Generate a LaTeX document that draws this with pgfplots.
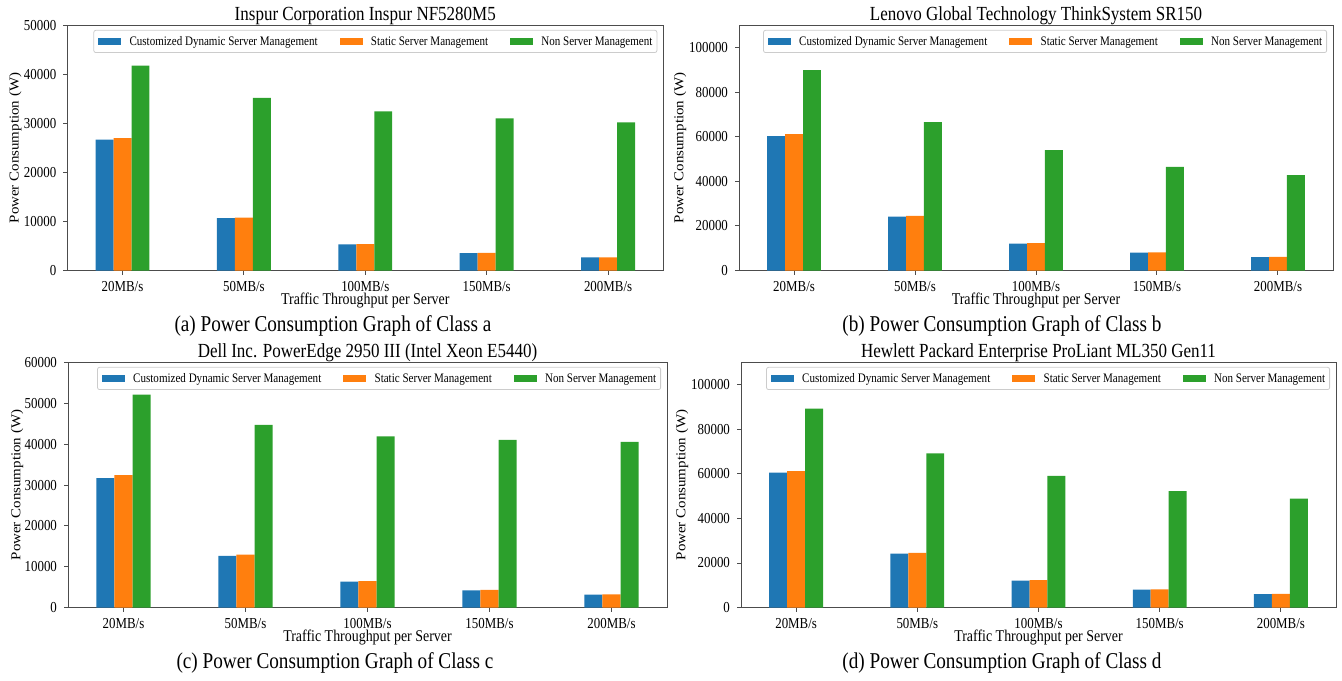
\documentclass[border=0pt]{standalone}
\usepackage{pgfplots}
\pgfplotsset{compat=1.18}
\usepackage{fontspec}
\setmainfont{Liberation Serif}[FakeStretch=0.85]
\newfontfamily\ylfont{Liberation Serif}[FakeStretch=1.1]
\definecolor{cB}{HTML}{1F77B4}
\definecolor{cO}{HTML}{FF7F0E}
\definecolor{cG}{HTML}{2CA02C}
\pgfplotsset{
 panel/.style={
  scale only axis, anchor=south west,
  ybar=0pt, bar width=0.148,
  xmin=-0.455, xmax=4.455, ymin=0,
  xtick={0,1,2,3,4},
  xticklabels={20MB/s,50MB/s,100MB/s,150MB/s,200MB/s},
  tick align=outside, xtick pos=bottom, ytick pos=left,
  major tick length=2pt,
  tick style={black!70, line width=0.5pt},
  axis line style={black!70, line width=0.5pt},
  scaled y ticks=false,
  /pgf/number format/assume math mode=true,
  yticklabel style={/pgf/number format/.cd, fixed, 1000 sep={}},
  ticklabel style={font=\fontsize{7.6}{8}\selectfont},
  xticklabel style={anchor=base, yshift=-8.35pt},
  xlabel={Traffic Throughput per Server},
  ylabel={Power Consumption (W)},
  xlabel style={font=\fontsize{8.2}{9}\selectfont, at={(axis description cs:0.5,0)}, anchor=base, yshift=-17pt},
  ylabel style={font=\fontsize{6.8}{7}\ylfont, anchor=center},
  every axis title/.style={font=\fontsize{10}{11}\selectfont, at={(axis description cs:0.5,1)}, anchor=base, yshift=2.5pt},
  legend columns=3,
  legend style={at={(1,1)}, anchor=north east, xshift=-3pt, yshift=-2.2pt,
    draw=black!20, rounded corners=1pt, font=\fontsize{6.5}{7}\selectfont,
    inner xsep=2.2pt, inner ysep=3.3pt, nodes={inner sep=0pt, text depth=0pt},
    /tikz/every odd column/.append style={column sep=4.15pt},
    /tikz/every even column/.append style={column sep=11pt}},
  legend image code/.code={\path[#1,draw=none,sharp corners] (0pt,-1.75pt) rectangle (11.5pt,1.75pt);},
 }
}
\begin{document}
\begin{tikzpicture}
\path (0,0) rectangle (671pt,337.5pt);
% (a)
\begin{axis}[panel, at={(33.65pt,202.5pt)}, width=298pt, height=122.5pt,
  ymax=50000, ytick distance=10000,
  title={Inspur Corporation Inspur NF5280M5},
  ylabel style={at={(axis description cs:-0.087,0.5)}}]
\addplot[fill=cB, draw=none, bar shift=-0.148] coordinates {(0,26700) (1,10680) (2,5340) (3,3560) (4,2670)};
\addplot[fill=cO, draw=none, bar shift=0] coordinates {(0,27000) (1,10800) (2,5400) (3,3600) (4,2700)};
\addplot[fill=cG, draw=none, bar shift=0.148] coordinates {(0,41800) (1,35250) (2,32480) (3,31050) (4,30250)};
\legend{Customized Dynamic Server Management, Static Server Management, Non Server Management}
\end{axis}
% (b)
\begin{axis}[panel, at={(369.5pt,202.5pt)}, width=297pt, height=122.5pt,
  ymax=110000, ytick distance=20000,
  title={Lenovo Global Technology ThinkSystem SR150},
  ylabel style={at={(axis description cs:-0.099,0.5)}}]
\addplot[fill=cB, draw=none, bar shift=-0.148] coordinates {(0,60400) (1,24160) (2,12080) (3,8050) (4,6040)};
\addplot[fill=cO, draw=none, bar shift=0] coordinates {(0,61300) (1,24520) (2,12260) (3,8170) (4,6130)};
\addplot[fill=cG, draw=none, bar shift=0.148] coordinates {(0,90000) (1,66600) (2,54050) (3,46550) (4,42850)};
\legend{Customized Dynamic Server Management, Static Server Management, Non Server Management}
\end{axis}
% (c)
\begin{axis}[panel, at={(34pt,34pt)}, width=299.5pt, height=122.5pt,
  ymax=60000, ytick distance=10000,
  title={Dell Inc. PowerEdge 2950 III (Intel Xeon E5440)},
  ylabel style={at={(axis description cs:-0.085,0.5)}}]
\addplot[fill=cB, draw=none, bar shift=-0.148] coordinates {(0,31700) (1,12680) (2,6340) (3,4230) (4,3170)};
\addplot[fill=cO, draw=none, bar shift=0] coordinates {(0,32400) (1,12960) (2,6480) (3,4320) (4,3240)};
\addplot[fill=cG, draw=none, bar shift=0.148] coordinates {(0,52150) (1,44750) (2,41900) (3,41050) (4,40550)};
\legend{Customized Dynamic Server Management, Static Server Management, Non Server Management}
\end{axis}
% (d)
\begin{axis}[panel, at={(370.5pt,34pt)}, width=297.5pt, height=122.5pt,
  ymax=110000, ytick distance=20000,
  title={Hewlett Packard Enterprise ProLiant ML350 Gen11},
  ylabel style={at={(axis description cs:-0.099,0.5)}}]
\addplot[fill=cB, draw=none, bar shift=-0.148] coordinates {(0,60600) (1,24240) (2,12120) (3,8080) (4,6060)};
\addplot[fill=cO, draw=none, bar shift=0] coordinates {(0,61300) (1,24520) (2,12260) (3,8170) (4,6130)};
\addplot[fill=cG, draw=none, bar shift=0.148] coordinates {(0,89300) (1,69250) (2,59150) (3,52300) (4,48900)};
\legend{Customized Dynamic Server Management, Static Server Management, Non Server Management}
\end{axis}
% captions
\node[anchor=base, font=\fontsize{11.3}{12}\selectfont] at (166.5pt,172pt) {(a) Power Consumption Graph of Class a};
\node[anchor=base, font=\fontsize{11.3}{12}\selectfont] at (501pt,172pt) {(b) Power Consumption Graph of Class b};
\node[anchor=base, font=\fontsize{11.3}{12}\selectfont] at (167.5pt,3.5pt) {(c) Power Consumption Graph of Class c};
\node[anchor=base, font=\fontsize{11.3}{12}\selectfont] at (501pt,3.5pt) {(d) Power Consumption Graph of Class d};
\end{tikzpicture}
\end{document}
